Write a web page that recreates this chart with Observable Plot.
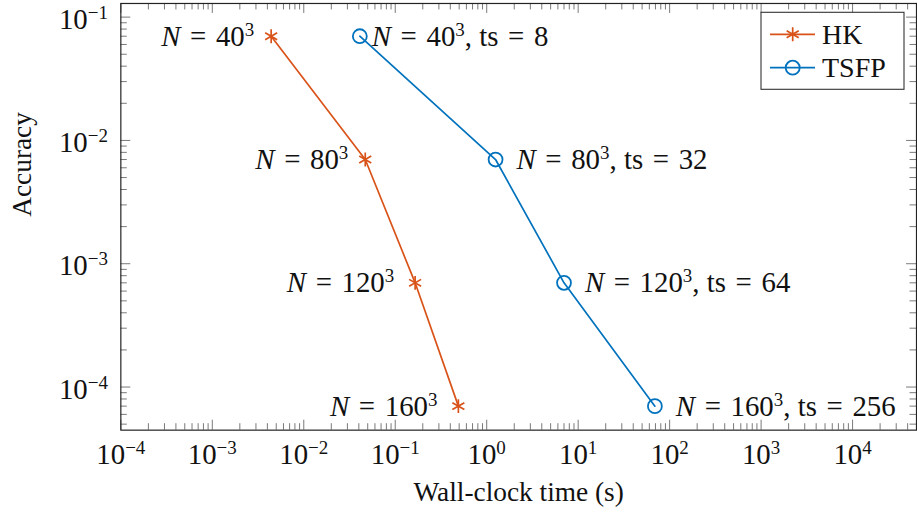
<!DOCTYPE html>
<html><head><meta charset="utf-8">
<script src="https://cdn.jsdelivr.net/npm/d3@7"></script>
<script src="https://cdn.jsdelivr.net/npm/@observablehq/plot@0.6"></script>
<style>
html,body{margin:0;padding:0;background:#fff;overflow:hidden;}
#wrap{position:relative;width:917px;height:512px;overflow:hidden;background:#fff;}
#wrap svg{display:block;}
</style></head><body><div id="wrap"></div>
<script>
// ---- data ----
const resolutions = ["40", "80", "120", "160"];
const hkTime = [0.0044, 0.047, 0.165, 0.49];
const hkAccuracy = [0.07, 0.007, 0.0007, 0.00007];
const tsfpTime = [0.041, 1.25, 7.0, 69];
const tsfpAccuracy = [0.07, 0.007, 0.0007, 0.00007];
const tsfpSteps = [8, 32, 64, 256];
const seriesNames = ["HK", "TSFP"];
const xTicks = [1e-4, 1e-3, 1e-2, 1e-1, 1e0, 1e1, 1e2, 1e3, 1e4];
const xTickLabels = ["10^{−4}", "10^{−3}", "10^{−2}", "10^{−1}", "10^{0}", "10^{1}", "10^{2}", "10^{3}", "10^{4}"];
const yTicks = [1e-4, 1e-3, 1e-2, 1e-1];
const yTickLabels = ["10^{−4}", "10^{−3}", "10^{−2}", "10^{−1}"];
const xLabel = "Wall-clock time (s)";
const yLabel = "Accuracy";
const xDomain = [1e-4, 5e4];
const yDomain = [4.47e-5, 0.129];

// ---- layout / style ----
const W = 922, H = 512, ML = 121, MR = 1, MT = 3, MB = 80;
const plotW = W - ML - MR, plotH = H - MT - MB;
const FONT = "Liberation Serif, DejaVu Serif, serif";
const F = 29;
const orange = "#D95319", blue = "#0072BD";
const tickColor = "#6a6a6a";
const majorLen = 10, minorLen = 6.5;
const EQ = "\u2004=\u2004";

const hk = hkTime.map((t, i) => ({t, acc: hkAccuracy[i], label: `$N$${EQ}${resolutions[i]}^{3}`}));
const tsfp = tsfpTime.map((t, i) => ({t, acc: tsfpAccuracy[i], label: `$N$${EQ}${resolutions[i]}^{3}, ts${EQ}${tsfpSteps[i]}`}));

const xMinor = [];
for (let k = -4; k <= 4; k++) for (let m = 2; m <= 9; m++) { const v = m * 10 ** k; if (v <= xDomain[1]) xMinor.push(v); }
const yMinor = [];
for (let k = -5; k <= -1; k++) for (let m = 2; m <= 9; m++) { const v = m * 10 ** k; if (v >= yDomain[0] && v <= yDomain[1]) yMinor.push(v); }

const tickStyle = {stroke: tickColor, strokeWidth: 0.9};
const xtMap = new Map(xTicks.map((d, i) => [d, xTickLabels[i]]));
const ytMap = new Map(yTicks.map((d, i) => [d, yTickLabels[i]]));
const txt = {fontSize: F, fill: "#111", className: "tex"};

const chart = Plot.plot({
  width: W, height: H,
  marginLeft: ML, marginRight: MR, marginTop: MT, marginBottom: MB,
  style: {fontFamily: FONT, background: "#fff", color: "#111"},
  x: {type: "log", domain: xDomain, axis: null},
  y: {type: "log", domain: yDomain, axis: null},
  marks: [
    // ticks (inward), bottom/top/left/right
    Plot.tickX(xMinor, {x: d => d, insetTop: plotH - minorLen, ...tickStyle}),
    Plot.tickX(xMinor, {x: d => d, insetBottom: plotH - minorLen, ...tickStyle}),
    Plot.tickX(xTicks, {x: d => d, insetTop: plotH - majorLen, ...tickStyle}),
    Plot.tickX(xTicks, {x: d => d, insetBottom: plotH - majorLen, ...tickStyle}),
    Plot.tickY(yMinor, {y: d => d, insetRight: plotW - minorLen, ...tickStyle}),
    Plot.tickY(yMinor, {y: d => d, insetLeft: plotW - minorLen, ...tickStyle}),
    Plot.tickY(yTicks, {y: d => d, insetRight: plotW - majorLen, ...tickStyle}),
    Plot.tickY(yTicks, {y: d => d, insetLeft: plotW - majorLen, ...tickStyle}),
    // tick labels
    Plot.text(xTicks, {x: d => d, text: d => xtMap.get(d), frameAnchor: "bottom", lineAnchor: "bottom", dy: 34, ...txt}),
    Plot.text(yTicks, {y: d => d, text: d => ytMap.get(d), frameAnchor: "left", textAnchor: "end", lineAnchor: "bottom", dx: -13, dy: 11.6, ...txt}),
    // axis labels
    Plot.text([xLabel], {text: d => d, frameAnchor: "bottom", lineAnchor: "bottom", dy: 71, fontSize: 27.5, fill: "#111"}),
    Plot.text([yLabel], {text: d => d, frameAnchor: "left", rotate: -90, dx: -99, fontSize: 27.5, fill: "#111"}),
    // series
    Plot.line(hk, {x: "t", y: "acc", stroke: orange, strokeWidth: 1.7}),
    Plot.dot(hk, {x: "t", y: "acc", symbol: "asterisk", r: 6.6, stroke: orange, strokeWidth: 1.7}),
    Plot.line(tsfp, {x: "t", y: "acc", stroke: blue, strokeWidth: 1.7}),
    Plot.dot(tsfp, {x: "t", y: "acc", symbol: "circle", r: 7, stroke: blue, fill: "none", strokeWidth: 1.8}),
    // data labels
    Plot.text(hk, {filter: (d, i) => i < 2, x: "t", y: "acc", text: "label", textAnchor: "end", lineAnchor: "bottom", dx: -17, dy: 9.5, ...txt}),
    Plot.text(hk, {filter: (d, i) => i >= 2, x: "t", y: "acc", text: "label", textAnchor: "end", lineAnchor: "bottom", dx: -21, dy: 9.5, ...txt}),
    Plot.text(tsfp, {filter: (d, i) => i === 0, x: "t", y: "acc", text: "label", textAnchor: "start", lineAnchor: "bottom", dx: 12, dy: 9.5, ...txt}),
    Plot.text(tsfp, {filter: (d, i) => i > 0, x: "t", y: "acc", text: "label", textAnchor: "start", lineAnchor: "bottom", dx: 21, dy: 9.5, ...txt}),
    Plot.frame({stroke: "#222", strokeWidth: 1.2})
  ]
});

// turn the small markup (^{..} superscript, $..$ italic) into tspans
const SVGNS = "http://www.w3.org/2000/svg";
function texify(el, size) {
  const s = el.textContent;
  if (!/[\^$]/.test(s)) return;
  while (el.firstChild) el.removeChild(el.firstChild);
  const re = /\^\{([^}]*)\}|\$([^$]*)\$|([^^$]+)/g;
  const rise = 0.34 * size;
  let m, raised = false;
  while ((m = re.exec(s))) {
    const ts = document.createElementNS(SVGNS, "tspan");
    if (m[1] !== undefined) {
      ts.textContent = m[1];
      ts.setAttribute("font-size", (0.66 * size).toFixed(1));
      ts.setAttribute("dy", (-rise).toFixed(1));
      raised = true;
    } else {
      ts.textContent = m[2] !== undefined ? m[2] : m[3];
      if (m[2] !== undefined) ts.setAttribute("font-style", "italic");
      if (raised) { ts.setAttribute("dy", rise.toFixed(1)); raised = false; }
    }
    el.appendChild(ts);
  }
}
chart.querySelectorAll("g.tex text").forEach(t => texify(t, F));

const wrap = document.getElementById("wrap");
wrap.appendChild(chart);

// legend (inside the plot, top-right)
const leg = d3.select(wrap).append("svg")
  .attr("width", 917).attr("height", 512)
  .style("position", "absolute").style("left", "0px").style("top", "0px")
  .style("pointer-events", "none");
const lx = 761, ly = 12.3, lw = 143, lh = 77;
leg.append("rect").attr("x", lx).attr("y", ly).attr("width", lw).attr("height", lh)
  .attr("fill", "#fff").attr("stroke", "#333").attr("stroke-width", 1.1);
const rows = [
  {name: seriesNames[0], color: orange, symbol: d3.symbolAsterisk, size: Math.PI * 6.6 * 6.6, fill: "none", sw: 1.7},
  {name: seriesNames[1], color: blue, symbol: d3.symbolCircle, size: Math.PI * 7 * 7, fill: "none", sw: 1.8}
];
rows.forEach((r, i) => {
  const cy = 34.3 + i * 33.4;
  leg.append("line").attr("x1", 770).attr("x2", 815).attr("y1", cy).attr("y2", cy)
    .attr("stroke", r.color).attr("stroke-width", 1.7);
  leg.append("path").attr("d", d3.symbol(r.symbol, r.size)())
    .attr("transform", `translate(792.7,${cy})`)
    .attr("fill", r.fill).attr("stroke", r.color).attr("stroke-width", r.sw);
  leg.append("text").attr("x", 822).attr("y", cy + 9.2)
    .attr("font-family", FONT).attr("font-size", 28).attr("fill", "#111").text(r.name);
});
</script></body></html>
